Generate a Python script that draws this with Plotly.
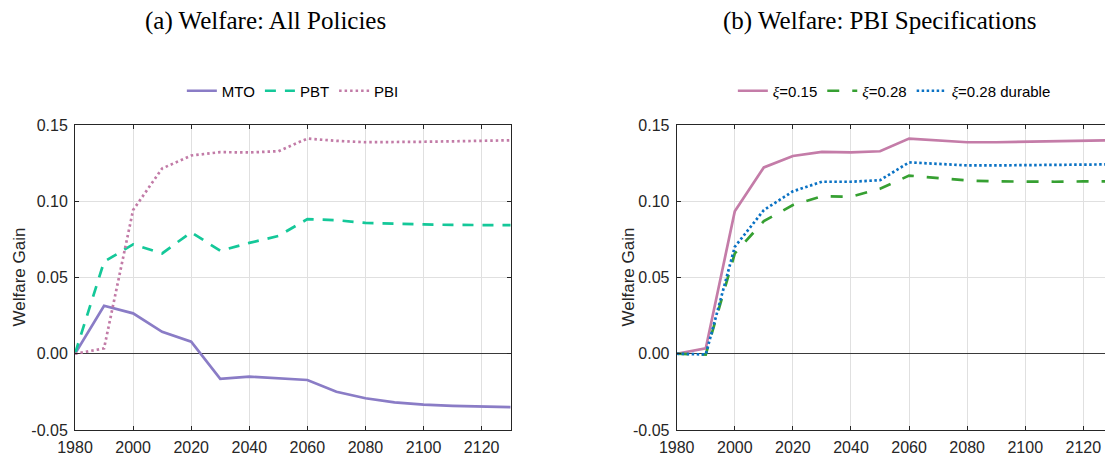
import plotly.graph_objects as go

# ---------------- data ----------------
years = [1980, 1990, 2000, 2010, 2020, 2030, 2040, 2050, 2060, 2070, 2080, 2090, 2100, 2110, 2120, 2130]

mto = [0.0, 0.0315, 0.0265, 0.0144, 0.0079, -0.0164, -0.0150, -0.0160, -0.0172, -0.0249,
       -0.0292, -0.0319, -0.0334, -0.0342, -0.0347, -0.0350]
pbt = [0.0, 0.0603, 0.0717, 0.0658, 0.0797, 0.0675, 0.0727, 0.0772, 0.0883, 0.0876,
       0.0858, 0.0851, 0.0848, 0.0845, 0.0843, 0.0843]
pbi = [0.0, 0.0035, 0.0942, 0.1215, 0.1300, 0.1322, 0.1320, 0.1328, 0.1411, 0.1396,
       0.1387, 0.1387, 0.1390, 0.1393, 0.1397, 0.1400]

xi015 = [0.0, 0.0035, 0.0935, 0.1222, 0.1297, 0.1324, 0.1320, 0.1328, 0.1411, 0.1398,
         0.1387, 0.1387, 0.1390, 0.1393, 0.1398, 0.1400]
xi028 = [0.0, -0.0005, 0.0658, 0.0870, 0.0975, 0.1033, 0.1030, 0.1082, 0.1168, 0.1150,
         0.1136, 0.1130, 0.1128, 0.1128, 0.1130, 0.1130]
xi028d = [0.0, -0.0005, 0.0701, 0.0942, 0.1065, 0.1128, 0.1128, 0.1138, 0.1255, 0.1245,
          0.1235, 0.1235, 0.1236, 0.1238, 0.1240, 0.1242]

x_tick_vals = [1980, 2000, 2020, 2040, 2060, 2080, 2100, 2120]
x_tick_labels = ["1980", "2000", "2020", "2040", "2060", "2080", "2100", "2120"]
y_tick_vals = [-0.05, 0.0, 0.05, 0.10, 0.15]
y_tick_labels = ["-0.05", "0.00", "0.05", "0.10", "0.15"]

title_a = "(a) Welfare: All Policies"
title_b = "(b) Welfare: PBI Specifications"
y_title = "Welfare Gain"

# ---------------- styling ----------------
W, H = 1105, 457
SANS = "Liberation Sans, Arial, Helvetica, sans-serif"
SERIF = "Liberation Serif, Times New Roman, Times, serif"
AX = "#262626"
GRID = "#e0e0e0"
XI = "<span style='font-family:Liberation Serif, Times New Roman, serif'><i>ξ</i></span>"

left_px = (75, 510.7)
right_px = (676.7, 1105)
top_px, bot_px = 125, 430

fig = go.Figure()

fig.add_trace(go.Scatter(x=years, y=mto, mode="lines", name="MTO",
                         line=dict(color="#8a7cc6", width=2.7), xaxis="x", yaxis="y", legend="legend"))
fig.add_trace(go.Scatter(x=years, y=pbt, mode="lines", name="PBT",
                         line=dict(color="#14c899", width=2.7, dash="11px,9px"), xaxis="x", yaxis="y", legend="legend"))
fig.add_trace(go.Scatter(x=years, y=pbi, mode="lines", name="PBI",
                         line=dict(color="#c27ba7", width=2.7, dash="2.5px,3px"), xaxis="x", yaxis="y", legend="legend"))

fig.add_trace(go.Scatter(x=years, y=xi015, mode="lines", name=XI + "=0.15",
                         line=dict(color="#c47ca8", width=2.7), xaxis="x2", yaxis="y2", legend="legend2"))
fig.add_trace(go.Scatter(x=years, y=xi028, mode="lines", name=XI + "=0.28",
                         line=dict(color="#36a032", width=2.7, dash="12px,13px"), xaxis="x2", yaxis="y2", legend="legend2"))
fig.add_trace(go.Scatter(x=years, y=xi028d, mode="lines", name=XI + "=0.28 durable",
                         line=dict(color="#0a72c4", width=2.7, dash="2.5px,2.5px"), xaxis="x2", yaxis="y2", legend="legend2"))

ydom = [1 - bot_px / H, 1 - top_px / H]
xdom1 = [left_px[0] / W, left_px[1] / W]
xdom2 = [right_px[0] / W, 1.0]
xmax2 = 1980 + (right_px[1] - right_px[0]) / ((left_px[1] - left_px[0]) / 150.0)

common_x = dict(tickmode="array", tickvals=x_tick_vals, ticktext=x_tick_labels,
                showgrid=True, gridcolor=GRID, gridwidth=1, zeroline=False,
                showline=True, linecolor=AX, linewidth=1, mirror="allticks",
                ticks="inside", ticklen=4, tickcolor=AX, automargin=False,
                tickfont=dict(family=SANS, size=16, color=AX), ticklabelstandoff=3)
common_y = dict(tickmode="array", tickvals=y_tick_vals, ticktext=y_tick_labels,
                range=[-0.05, 0.15], showgrid=True, gridcolor=GRID, gridwidth=1,
                zeroline=True, zerolinecolor="#3a3a3a", zerolinewidth=1,
                showline=True, linecolor=AX, linewidth=1, automargin=False,
                ticks="inside", ticklen=4, tickcolor=AX,
                tickfont=dict(family=SANS, size=16, color=AX), ticklabelstandoff=3)

fig.update_layout(
    template="none",
    width=W, height=H,
    margin=dict(l=0, r=0, t=0, b=0, pad=0, autoexpand=False),
    font=dict(family=SANS, size=15, color=AX),
    paper_bgcolor="white", plot_bgcolor="white",
    xaxis=dict(domain=xdom1, range=[1980, 2130], anchor="y", **common_x),
    yaxis=dict(domain=ydom, anchor="x", mirror="allticks", **common_y),
    xaxis2=dict(domain=xdom2, range=[1980, xmax2], anchor="y2", **common_x),
    yaxis2=dict(domain=ydom, anchor="x2", mirror=False, **common_y),
    legend=dict(orientation="h", x=(left_px[0] + left_px[1]) / 2 / W, xanchor="center",
                y=1 - 91 / H, yanchor="middle", font=dict(family=SANS, size=15, color="black"),
                bgcolor="rgba(0,0,0,0)", borderwidth=0, itemwidth=30, tracegroupgap=0),
    legend2=dict(orientation="h", x=(right_px[0] + 1112) / 2 / W, xanchor="center",
                 y=1 - 91 / H, yanchor="middle", font=dict(family=SANS, size=15, color="black"),
                 bgcolor="rgba(0,0,0,0)", borderwidth=0, itemwidth=30, tracegroupgap=0),
    showlegend=True,
)

fig.add_annotation(text=title_a, xref="paper", yref="paper", x=265 / W, y=1 - 21 / H,
                   showarrow=False, xanchor="center", yanchor="middle",
                   font=dict(family=SERIF, size=25, color="black"))
fig.add_annotation(text=title_b, xref="paper", yref="paper", x=880 / W, y=1 - 21 / H,
                   showarrow=False, xanchor="center", yanchor="middle",
                   font=dict(family=SERIF, size=25, color="black"))
fig.add_annotation(text=y_title, xref="paper", yref="paper", x=19 / W, y=(ydom[0] + ydom[1]) / 2,
                   showarrow=False, textangle=-90, xanchor="center", yanchor="middle",
                   font=dict(family=SANS, size=17, color=AX))
fig.add_annotation(text=y_title, xref="paper", yref="paper", x=628 / W, y=(ydom[0] + ydom[1]) / 2,
                   showarrow=False, textangle=-90, xanchor="center", yanchor="middle",
                   font=dict(family=SANS, size=17, color=AX))

fig.write_html("out.html")
